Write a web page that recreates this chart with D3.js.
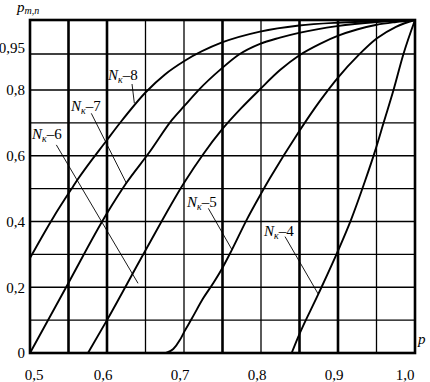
<!DOCTYPE html>
<html>
<head>
<meta charset="utf-8">
<script src="https://cdn.jsdelivr.net/npm/d3@7"></script>
<style>
body { margin: 0; background: #fff; }
svg { display: block; }
</style>
</head>
<body>
<svg id="drawing_region"></svg>
<script>
// values: p on x, p_m,n on y
const nk_names = ['8', '7', '6', '5', '4'];

const p_nk8 = [0.5, 0.5299, 0.5558, 0.5614, 0.6, 0.6186, 0.6506, 0.6753, 0.701, 0.7494, 0.7987, 0.8494, 0.8987, 0.9506, 1.0];
const v_nk8 = [0.289, 0.411, 0.506, 0.526, 0.648, 0.705, 0.794, 0.865, 0.922, 0.967, 0.983, 0.992, 0.996, 0.998, 1.0];

const p_nk7 = [0.5, 0.5485, 0.6, 0.6251, 0.6555, 0.6844, 0.701, 0.7186, 0.749, 0.7705, 0.7987, 0.8247, 0.8494, 0.8987, 0.9506, 1.0];
const v_nk7 = [0.0, 0.207, 0.425, 0.517, 0.612, 0.709, 0.753, 0.799, 0.890, 0.946, 0.965, 0.974, 0.981, 0.991, 0.997, 1.0];

const p_nk6 = [0.5753, 0.6, 0.649, 0.701, 0.7247, 0.7494, 0.774, 0.7987, 0.8247, 0.8494, 0.8766, 0.9004, 0.9247, 0.9503, 0.9753, 1.0];
const v_nk6 = [0.0, 0.1, 0.308, 0.521, 0.604, 0.680, 0.744, 0.803, 0.883, 0.944, 0.965, 0.977, 0.986, 0.993, 0.997, 1.0];

const p_nk5 = [0.6766, 0.6861, 0.6948, 0.7004, 0.71, 0.7251, 0.7381, 0.7497, 0.762, 0.7814, 0.7987, 0.8117, 0.8494, 0.8766, 0.9, 0.926, 0.9506, 0.9753, 1.0];
const v_nk5 = [0.0, 0.012, 0.04, 0.065, 0.104, 0.167, 0.213, 0.258, 0.313, 0.405, 0.479, 0.532, 0.674, 0.767, 0.852, 0.943, 0.973, 0.990, 1.0];

const p_nk4 = [0.8398, 0.8485, 0.8744, 0.9004, 0.9169, 0.9351, 0.9481, 0.9597, 0.9721, 0.985, 1.0];
const v_nk4 = [0.0, 0.05, 0.179, 0.313, 0.405, 0.523, 0.614, 0.704, 0.8, 0.95, 1.0];

// curve labels and their leader lines
const label_p = [0.6013, 0.5532, 0.5026, 0.7039, 0.8039];
const label_v = [0.842, 0.736, 0.651, 0.444, 0.356];
const leader_p0 = [0.6325, 0.5796, 0.5342, 0.7316, 0.8312];
const leader_v0 = [0.825, 0.729, 0.633, 0.440, 0.354];
const leader_p1 = [0.6355, 0.6251, 0.6403, 0.7619, 0.8744];
const leader_v1 = [0.760, 0.517, 0.212, 0.316, 0.179];

const x_ticks = [0.5, 0.6, 0.7, 0.8, 0.9, 1.0];
const y_ticks = [0, 0.2, 0.4, 0.6, 0.8, 0.95];
const x_grid = [0.55, 0.6, 0.65, 0.7, 0.75, 0.8, 0.85, 0.9, 0.95];
const x_grid_bold = [0.55, 0.6, 0.75, 0.85, 0.9];
const y_grid = [0.1, 0.2, 0.3, 0.4, 0.5, 0.6, 0.7, 0.8, 0.95];

class CurveChart {
    constructor(config, data) {
        this.config = {
            parent: config.parent,
            width: config.width || 430,
            height: config.height || 382,
            margin: config.margin || {top: 20, right: 15, bottom: 29, left: 30},
            font: config.font || 'serif',
        };
        this.data = data;
        this.init();
    }

    init() {
        let self = this;
        self.svg = d3.select(self.config.parent)
            .attr('width', self.config.width)
            .attr('height', self.config.height)
            .style('font-family', self.config.font);

        self.svg.append('rect')
            .attr('width', self.config.width)
            .attr('height', self.config.height)
            .attr('fill', '#fff');

        self.left = self.config.margin.left;
        self.right = self.config.width - self.config.margin.right;
        self.top = self.config.margin.top;
        self.bottom = self.config.height - self.config.margin.bottom;
    }

    update() {
        let self = this;
        self.xScale = d3.scaleLinear()
            .domain([0.5, 1.0])
            .range([self.left, self.right]);

        // the upper part of the scale is stretched in the original
        self.yScale = d3.scaleLinear()
            .domain([0, 0.8, 0.95, 1.0])
            .range([self.bottom, 90, 54, self.top]);

        self.line = d3.line()
            .x(d => self.xScale(d.p))
            .y(d => self.yScale(d.v))
            .curve(d3.curveMonotoneX);

        self.render();
    }

    render() {
        let self = this;
        const x = self.xScale, y = self.yScale;

        // grid
        self.svg.append('g').selectAll('line')
            .data(y_grid).join('line')
            .attr('x1', self.left).attr('x2', self.right)
            .attr('y1', d => y(d)).attr('y2', d => y(d))
            .attr('stroke', '#000').attr('stroke-width', 1.4);

        self.svg.append('g').selectAll('line')
            .data(x_grid).join('line')
            .attr('x1', d => x(d)).attr('x2', d => x(d))
            .attr('y1', self.top).attr('y2', self.bottom)
            .attr('stroke', '#000')
            .attr('stroke-width', d => x_grid_bold.includes(d) ? 2.6 : 1.3);

        // frame
        self.svg.append('rect')
            .attr('x', self.left).attr('y', self.top)
            .attr('width', self.right - self.left)
            .attr('height', self.bottom - self.top)
            .attr('fill', 'none')
            .attr('stroke', '#000')
            .attr('stroke-width', 2.6);

        // curves
        self.svg.append('g').selectAll('path')
            .data(self.data).join('path')
            .attr('d', d => self.line(d.points))
            .attr('fill', 'none')
            .attr('stroke', '#000')
            .attr('stroke-width', 1.9);

        // leader lines
        self.svg.append('g').selectAll('line')
            .data(nk_names).join('line')
            .attr('x1', (d, i) => x(leader_p0[i])).attr('y1', (d, i) => y(leader_v0[i]))
            .attr('x2', (d, i) => x(leader_p1[i])).attr('y2', (d, i) => y(leader_v1[i]))
            .attr('stroke', '#000').attr('stroke-width', 0.9);

        // labels N_k-n
        const labels = self.svg.append('g').selectAll('text')
            .data(nk_names).join('text')
            .attr('x', (d, i) => x(label_p[i]))
            .attr('y', (d, i) => y(label_v[i]))
            .attr('font-size', 15);
        labels.append('tspan').attr('font-style', 'italic').text('N');
        labels.append('tspan').attr('font-style', 'italic').attr('font-size', 10).attr('dy', 3).text('к');
        labels.append('tspan').attr('dy', -3).text(d => '–' + d);

        // tick labels
        const fx = d3.format('.1f'), fy = d3.format('.2~f');
        self.svg.append('g').selectAll('text')
            .data(x_ticks).join('text')
            .attr('x', d => Math.min(405, Math.max(34, x(d) - 4)))
            .attr('y', 380)
            .attr('text-anchor', 'middle')
            .attr('font-size', 15)
            .text(d => fx(d).replace('.', ','));

        self.svg.append('g').selectAll('text')
            .data(y_ticks).join('text')
            .attr('x', self.left - 5)
            .attr('y', d => y(d) + (d === 0.95 ? -6 : 0))
            .attr('dy', '0.35em')
            .attr('text-anchor', 'end')
            .attr('font-size', 15)
            .text(d => fy(d).replace('.', ','));

        // axis titles
        const yt = self.svg.append('text')
            .attr('x', 17).attr('y', 11.5)
            .attr('font-size', 15).attr('font-style', 'italic');
        yt.append('tspan').text('p');
        yt.append('tspan').attr('font-size', 10).attr('dy', 2).text('m,n');

        self.svg.append('text')
            .attr('x', 418).attr('y', 344)
            .attr('font-size', 15).attr('font-style', 'italic')
            .text('p');
    }
}

const p_sets = [p_nk8, p_nk7, p_nk6, p_nk5, p_nk4];
const v_sets = [v_nk8, v_nk7, v_nk6, v_nk5, v_nk4];
const curve_data = nk_names.map((n, i) => ({
    name: n,
    points: p_sets[i].map((p, j) => ({p: p, v: v_sets[i][j]}))
}));

const chart = new CurveChart({
    parent: '#drawing_region',
    width: 430,
    height: 382,
    font: '"Times New Roman", "Liberation Serif", Times, serif',
}, curve_data);
chart.update();
</script>
</body>
</html>
